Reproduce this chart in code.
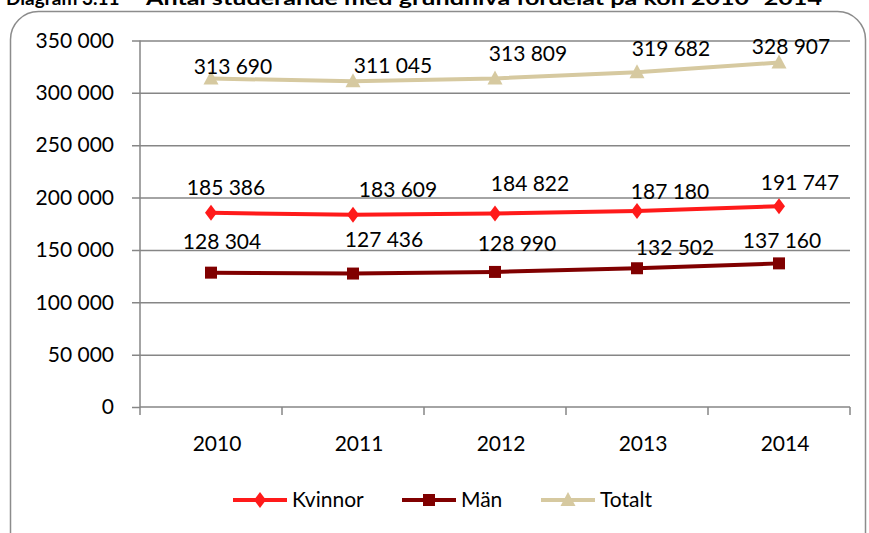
<!DOCTYPE html>
<html>
<head>
<meta charset="utf-8">
<script src="https://cdn.jsdelivr.net/npm/d3@7"></script>
<style>
  body { margin: 0; background: #fff; }
  text { font-family: Lato, 'Open Sans', sans-serif; }
</style>
</head>
<body>
<div id="chart"></div>
<script>
const years = ['2010', '2011', '2012', '2013', '2014']
const kvinnor = [185386, 183609, 184822, 187180, 191747]
const man = [128304, 127436, 128990, 132502, 137160]
const totalt = [313690, 311045, 313809, 319682, 328907]
const yTicks = [0, 50000, 100000, 150000, 200000, 250000, 300000, 350000]

// hand placed data labels, like in the original (dx from point, dy above point)
const labelShift = {
  Kvinnor: [[15, -25], [45, -25], [35, -30], [33, -19], [21, -24]],
  Män: [[11, -31], [31, -34], [22, -28], [38, -21], [3, -23]],
  Totalt: [[22, -12], [40, -16], [33, -25], [34, -24], [12, -16]]
}

const series = [
  { name: 'Kvinnor', values: kvinnor, color: '#ff1a1a', marker: 'diamond' },
  { name: 'Män', values: man, color: '#800000', marker: 'square' },
  { name: 'Totalt', values: totalt, color: '#d6c9a0', marker: 'triangle' }
]

const W = 869
const H = 533
const margin = { top: 40.5, left: 140, right: 19, bottom: 126 }
const width = W - margin.left - margin.right
const height = H - margin.top - margin.bottom

const svg = d3
  .select('#chart')
  .append('svg')
  .attr('width', W)
  .attr('height', H)

// title, mostly cropped off the top of the picture (as in the original)
svg
  .append('text')
  .attr('x', 6)
  .attr('y', 5)
  .attr('font-size', 19)
  .attr('font-weight', 'bold')
  .text('Diagram 3.11')
svg
  .append('text')
  .attr('x', 146)
  .attr('y', 5)
  .attr('font-size', 19)
  .attr('font-weight', 'bold')
  .attr('textLength', 676)
  .attr('lengthAdjust', 'spacingAndGlyphs')
  .text('Antal studerande med grundnivå fördelat på kön 2010–2014')

// chart frame
svg
  .append('rect')
  .attr('x', 10.5)
  .attr('y', 11.5)
  .attr('width', 855)
  .attr('height', 560)
  .attr('rx', 28)
  .attr('fill', 'none')
  .attr('stroke', '#8c8c8c')
  .attr('stroke-width', 1.5)

const g = svg
  .append('g')
  .attr('transform', 'translate(' + margin.left + ',' + margin.top + ')')

const xBand = d3
  .scaleBand()
  .domain(years)
  .range([0, width])

const xPoint = d => xBand(d) + xBand.bandwidth() / 2

const y = d3
  .scaleLinear()
  .domain([0, 350000])
  .range([height, 0])

const fmt = v => d3.format(',')(v).replace(/,/g, ' ')

// gridlines + y axis
const yAxis = d3
  .axisLeft(y)
  .tickValues(yTicks)
  .tickSize(8)
  .tickPadding(18)
  .tickFormat(fmt)

g.append('g')
  .attr('class', 'y-axis')
  .call(yAxis)
  .call(s => s.select('.domain').remove())
  .call(s => s.selectAll('line').attr('x2', d => (d === 0 ? 0 : width)).attr('x1', -8))

g.selectAll('.y-axis line')
  .attr('stroke', '#868686')
  .attr('stroke-width', 1.5)
g.selectAll('.y-axis text')
  .attr('font-size', 21)
  .attr('fill', '#000')

g.append('line')
  .attr('x1', 0)
  .attr('x2', 0)
  .attr('y1', 0)
  .attr('y2', height + 8)
  .attr('stroke', '#868686')
  .attr('stroke-width', 1.5)

// x axis
g.append('line')
  .attr('x1', 0)
  .attr('x2', width)
  .attr('y1', height)
  .attr('y2', height)
  .attr('stroke', '#868686')
  .attr('stroke-width', 1.5)

g.selectAll('.xtick')
  .data(years.slice(1).concat(['end']))
  .enter()
  .append('line')
  .attr('x1', d => (d === 'end' ? width : xBand(d)))
  .attr('x2', d => (d === 'end' ? width : xBand(d)))
  .attr('y1', height)
  .attr('y2', height + 8)
  .attr('stroke', '#868686')
  .attr('stroke-width', 1.5)

g.selectAll('.xlabel')
  .data(years)
  .enter()
  .append('text')
  .attr('x', d => xPoint(d) + 6)
  .attr('y', height + 44)
  .attr('text-anchor', 'middle')
  .attr('font-size', 21)
  .text(d => d)

const line = d3
  .line()
  .x((d, i) => xPoint(years[i]))
  .y(d => y(d))

const markerPath = {
  diamond: 'M0,-8L6,0L0,8L-6,0Z',
  square: 'M-6,-6H6V6H-6Z',
  triangle: 'M0,-8L7.5,6H-7.5Z'
}

series.forEach(s => {
  const sg = g.append('g')
  sg.append('path')
    .datum(s.values)
    .attr('d', line)
    .attr('fill', 'none')
    .attr('stroke', s.color)
    .attr('stroke-width', 4)

  sg.selectAll('.marker')
    .data(s.values)
    .enter()
    .append('path')
    .attr('d', markerPath[s.marker])
    .attr('transform', (d, i) => 'translate(' + xPoint(years[i]) + ',' + y(d) + ')')
    .attr('fill', s.color)

  sg.selectAll('.lbl')
    .data(s.values)
    .enter()
    .append('text')
    .attr('x', (d, i) => xPoint(years[i]) + labelShift[s.name][i][0])
    .attr('y', (d, i) => y(d) + labelShift[s.name][i][1])
    .attr('dy', '0.35em')
    .attr('text-anchor', 'middle')
    .attr('font-size', 21)
    .text(d => fmt(d))
})

// legend
const legendX = [233, 402, 541]
const legend = svg
  .selectAll('.legend')
  .data(series)
  .enter()
  .append('g')
  .attr('transform', (d, i) => 'translate(' + legendX[i] + ',500)')

legend.append('line')
  .attr('x1', 0)
  .attr('x2', 54)
  .attr('stroke', d => d.color)
  .attr('stroke-width', 4)
legend.append('path')
  .attr('d', d => markerPath[d.marker])
  .attr('transform', 'translate(27,0)')
  .attr('fill', d => d.color)
legend.append('text')
  .attr('x', 59)
  .attr('dy', '0.35em')
  .attr('font-size', 21)
  .text(d => d.name)
</script>
</body>
</html>
